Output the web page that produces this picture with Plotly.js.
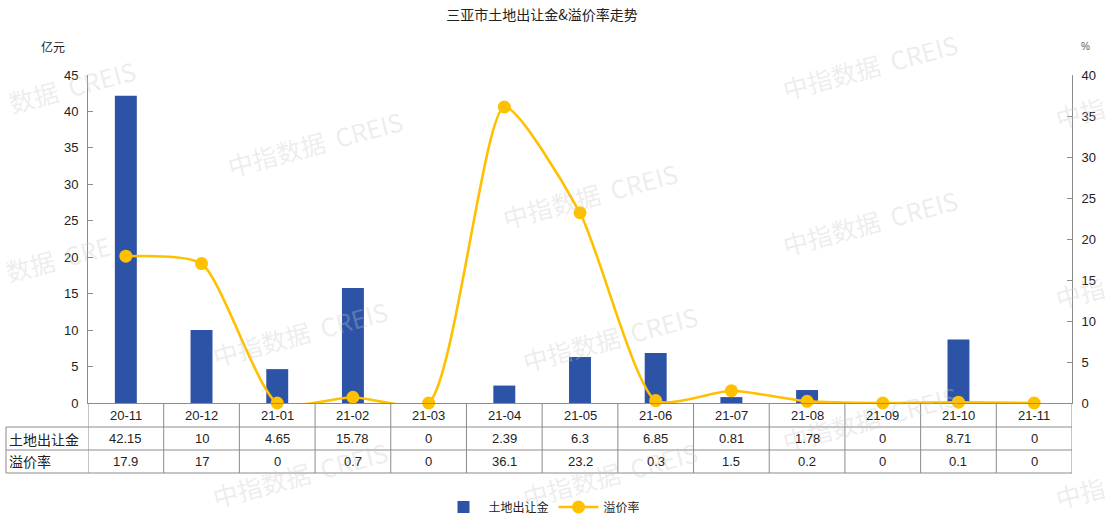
<!DOCTYPE html>
<html>
<head>
<meta charset="utf-8">
<script src="https://cdn.plot.ly/plotly-3.0.1.min.js"></script>
<style>html,body{margin:0;padding:0;background:#fff;}#chart{width:1108px;height:520px;}</style>
</head>
<body>
<div id="chart"></div>
<script>
// ---- data ----
const months = ['20-11','20-12','21-01','21-02','21-03','21-04','21-05','21-06','21-07','21-08','21-09','21-10','21-11'];
const landFee = [42.15, 10, 4.65, 15.78, 0, 2.39, 6.3, 6.85, 0.81, 1.78, 0, 8.71, 0];
const premiumRate = [17.9, 17, 0, 0.7, 0, 36.1, 23.2, 0.3, 1.5, 0.2, 0, 0.1, 0];
const feeLabels = ['42.15','10','4.65','15.78','0','2.39','6.3','6.85','0.81','1.78','0','8.71','0'];
const rateLabels = ['17.9','17','0','0.7','0','36.1','23.2','0.3','1.5','0.2','0','0.1','0'];
const seriesNames = ['土地出让金', '溢价率'];
const leftTicks = [0,5,10,15,20,25,30,35,40,45];
const rightTicks = [0,5,10,15,20,25,30,35,40];

// ---- geometry helpers (pixels -> paper) ----
const W = 1108, H = 520;
const L = 88, R = 1072, T = 75, B = 403;
const px2x = p => (p - L) / (R - L);
const px2y = p => (B - p) / (B - T);

const cjk = '"Noto Sans CJK SC", "Noto Sans", sans-serif';
const num = '"Liberation Sans", Arial, sans-serif';
const gridColor = '#8c8c8c';

const traces = [
  {
    type: 'bar', x: months, y: landFee, name: seriesNames[0],
    marker: {color: '#2D53A6'}, width: 0.29, yaxis: 'y', hoverinfo: 'x+y'
  },
  {
    type: 'scatter', mode: 'lines+markers', x: months, y: premiumRate, name: seriesNames[1],
    yaxis: 'y2', line: {color: '#FFC000', width: 2.6, shape: 'spline', smoothing: 0.6},
    marker: {color: '#FFC000', size: 13}, cliponaxis: false
  }
];

const shapes = [];
[427, 450, 473].forEach(p => {
  shapes.push({type:'line', xref:'paper', yref:'paper', x0: px2x(6), x1: 1, y0: px2y(p), y1: px2y(p), line:{color:gridColor, width:1}});
});
for (let i = -1; i < months.length; i++) {
  shapes.push({type:'line', xref:'x', yref:'paper', x0: i + 0.5, x1: i + 0.5, y0: 0, y1: px2y(473), line:{color:gridColor, width:1}});
}
shapes.push({type:'line', xref:'paper', yref:'paper', x0: px2x(6), x1: px2x(6), y0: px2y(427), y1: px2y(473), line:{color:gridColor, width:1}});

const annotations = [];
const A = (o) => Object.assign({showarrow:false, xanchor:'center', yanchor:'middle'}, o);
// watermarks (edge ones show only their visible part)
const wmFull = '中指数据  CREIS';
const wm = [
  [72, 86, '数据  CREIS'], [315, 143, wmFull], [590, 195, wmFull], [870, 222, wmFull], [870, 66, wmFull],
  [1080, 112, '中指'], [58, 258, '数据  CRE'], [1080, 292, '中指'],
  [300, 333, wmFull], [610, 338, wmFull], [870, 418, wmFull], [300, 474, wmFull], [610, 474, wmFull], [1080, 492, '中指']
];
wm.forEach(([x, y, t]) => {
  annotations.push(A({xref:'paper', yref:'paper', x: px2x(x), y: px2y(y), text: t, textangle:-15,
    font:{family:cjk, size:25, color:'rgba(200,200,200,0.32)'}}));
});
months.forEach((m, i) => {
  annotations.push(A({xref:'x', yref:'paper', x: i, y: px2y(415), text: m, font:{family:num, size:13, color:'#222'}}));
  annotations.push(A({xref:'x', yref:'paper', x: i, y: px2y(438.5), text: feeLabels[i], font:{family:num, size:13, color:'#222'}}));
  annotations.push(A({xref:'x', yref:'paper', x: i, y: px2y(461.5), text: rateLabels[i], font:{family:num, size:13, color:'#222'}}));
});
annotations.push(A({xref:'paper', yref:'paper', x: px2x(7), xanchor:'left', y: px2y(438.5), text: seriesNames[0], font:{family:cjk, size:14, color:'#222'}}));
annotations.push(A({xref:'paper', yref:'paper', x: px2x(7), xanchor:'left', y: px2y(461.5), text: seriesNames[1], font:{family:cjk, size:14, color:'#222'}}));
annotations.push(A({xref:'paper', yref:'paper', x: px2x(53), y: px2y(46), text: '亿元', font:{family:cjk, size:12, color:'#222'}}));
annotations.push(A({xref:'paper', yref:'paper', x: px2x(1085), y: px2y(46), text: '%', font:{family:num, size:10, color:'#555'}}));

const layout = {
  width: W, height: H,
  margin: {l: L, r: W - R, t: T, b: H - B, pad: 0, autoexpand: false},
  paper_bgcolor: '#fff', plot_bgcolor: '#fff',
  showlegend: true,
  title: {text: '三亚市土地出让金&溢价率走势', x: 542 / W, xanchor: 'center', y: 1 - 15 / H, yanchor: 'middle',
    font: {family: cjk, size: 14, color: '#222'}},
  xaxis: {type: 'category', range: [-0.5, months.length - 0.5], showticklabels: false, ticks: '',
    showline: true, linecolor: gridColor, linewidth: 1, showgrid: false, zeroline: false, fixedrange: true},
  yaxis: {range: [0, 45], tickvals: leftTicks, ticks: 'inside', ticklen: 5, tickcolor: gridColor,
    showline: true, linecolor: gridColor, linewidth: 1, showgrid: false, zeroline: false,
    tickfont: {family: num, size: 13, color: '#222'}, ticklabelstandoff: 6},
  yaxis2: {range: [0, 40], tickvals: rightTicks, overlaying: 'y', side: 'right', ticks: 'inside', ticklen: 5, tickcolor: gridColor,
    showline: true, linecolor: gridColor, linewidth: 1, showgrid: false, zeroline: false,
    tickfont: {family: num, size: 13, color: '#222'}, ticklabelstandoff: 6},
  legend: {orientation: 'h', xref: 'container', x: 542 / W, xanchor: 'center', yref: 'container', y: (H - 507) / H, yanchor: 'middle',
    font: {family: cjk, size: 12, color: '#222'}, itemwidth: 40, bgcolor: 'rgba(0,0,0,0)'},
  shapes: shapes,
  annotations: annotations
};

Plotly.newPlot('chart', traces, layout, {displayModeBar: false, staticPlot: true});
</script>
</body>
</html>
